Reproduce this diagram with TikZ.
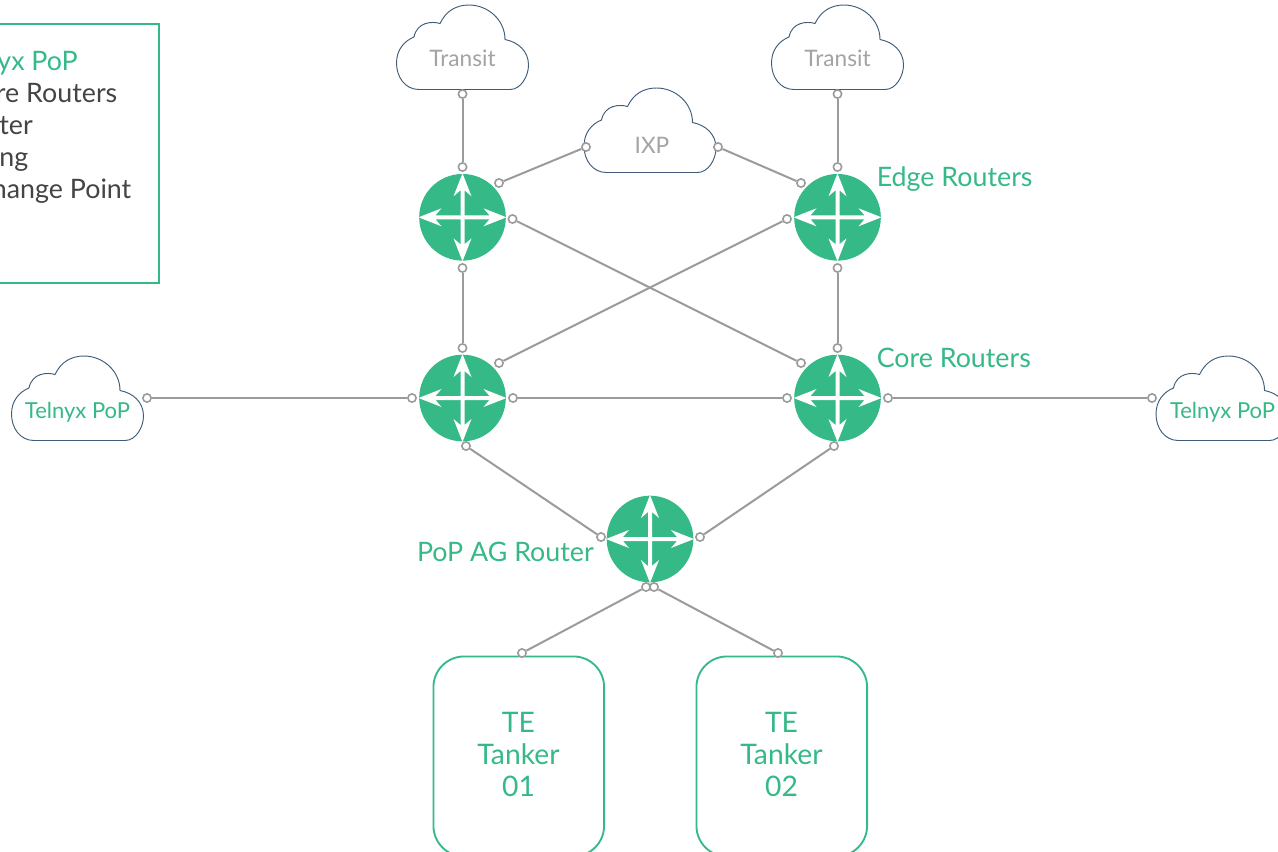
\documentclass[tikz,border=0pt]{standalone}
\usepackage{fontspec}
\setmainfont{Lato}
\definecolor{tgreen}{HTML}{34B987}
\definecolor{tline}{HTML}{9B9B9B}
\definecolor{tcloud}{HTML}{3F5B78}
\definecolor{tdark}{HTML}{444444}
\definecolor{tgray}{HTML}{A3A3A3}
\newcommand{\routerarrows}{%
  \fill[white] (-2,0) -- (-2,-27) -- (-9,-21) -- (0,-44) -- (9,-21) -- (2,-27) -- (2,0) -- cycle;
  \fill[white] (-2,0) -- (-2,27) -- (-9,21) -- (0,44) -- (9,21) -- (2,27) -- (2,0) -- cycle;
  \fill[white] (0,-2) -- (-27,-2) -- (-21,-9) -- (-44,0) -- (-21,9) -- (-27,2) -- (0,2) -- cycle;
  \fill[white] (0,-2) -- (27,-2) -- (21,-9) -- (44,0) -- (21,9) -- (27,2) -- (0,2) -- cycle;
}
\tikzset{
  x=0.75pt,y=-0.75pt,
  cloudshape/.pic={
    \draw[tcloud,line width=0.7pt,fill=white] (419,89.5) -- (510,89.5)
      .. controls (521,89.5) and (528.5,76) .. (528.5,65)
      .. controls (528.5,51) and (518,42) .. (505,39.5)
      .. controls (505,20) and (488,5) .. (469,5)
      .. controls (456,5) and (446,11) .. (440,23.5)
      .. controls (432,21) and (417,22) .. (414,37)
      .. controls (404,41) and (396.5,50) .. (396.5,63)
      .. controls (396.5,77) and (405,89.5) .. (419,89.5) -- cycle;
  },
  router/.style={circle,fill=tgreen,inner sep=0pt,minimum size=65pt,
    path picture={
      \begin{scope}[shift={(path picture bounding box.center)}]
        \routerarrows
      \end{scope}
    }},
  port/.style={circle,draw=tline,fill=white,line width=1.2pt,inner sep=0pt,minimum size=6.2pt},
  link/.style={draw=tline,line width=1.5pt},
  greenlabel/.style={text=tgreen,font=\fontsize{20.1}{24}\selectfont,inner sep=0pt},
  cloudgray/.style={text=tgray,font=\fontsize{17}{20}\selectfont,inner sep=0pt},
  cloudgreen/.style={text=tgreen,font=\fontsize{16.5}{20}\selectfont,inner sep=0pt},
  legendline/.style={text=tdark,font=\fontsize{20.1}{24}\selectfont,inner sep=0pt,anchor=mid east},
  tanker/.style={draw=tgreen,line width=1.4pt,rounded corners=23pt,inner sep=0pt,
    minimum width=128pt,minimum height=150pt,anchor=north west},
  tankertext/.style={text=tgreen,font=\fontsize{21.2}{24}\selectfont,align=center,inner sep=0pt},
}
\begin{document}
\begin{tikzpicture}
\useasboundingbox (0,0) rectangle (1278,851);
\clip (0,0) rectangle (1278,851);

% legend
\node[draw=tgreen,line width=1.4pt,inner sep=0pt,minimum width=135pt,minimum height=194pt,anchor=north east] (legend) at (160,23) {};
\node[legendline,text=tgreen] (l1) at (78,67) {Telnyx PoP};
\node[legendline] (l2) at (117.5,99) {Core Routers};
\node[legendline] (l3) at (33,131) {Router};
\node[legendline] (l4) at (28.5,163) {Peering};
\node[legendline] (l5) at (131.5,195) {Internet Exchange Point};

% clouds
\pic at (0,0) {cloudshape};
\pic at (375,0) {cloudshape};
\pic at (187.5,83) {cloudshape};
\pic at (-385,351) {cloudshape};
\pic at (759.5,351) {cloudshape};
\node[cloudgray] (t1) at (462.5,58) {Transit};
\node[cloudgray] (t2) at (837.5,58) {Transit};
\node[cloudgray] (ixp) at (652,145) {IXP};
\node[cloudgreen] (p1) at (77.5,412.5) {Telnyx PoP};
\node[cloudgreen] (p2) at (1222.5,412.5) {Telnyx PoP};

% routers
\node[router] (r1) at (462.5,217.3) {};
\node[router] (r2) at (837.5,217.3) {};
\node[router] (r3) at (462.5,398) {};
\node[router] (r4) at (837.5,398) {};
\node[router] (r5) at (650,539) {};

% labels
\node[greenlabel,anchor=mid west] (le) at (876.5,183.5) {Edge Routers};
\node[greenlabel,anchor=mid west] (lc) at (876.5,364.5) {Core Routers};
\node[greenlabel,anchor=mid east] (la) at (594,558.5) {PoP AG Router};

% tankers
\node[tanker] (b1) at (432.5,655.5) {};
\node[tanker] (b2) at (695.5,655.5) {};
\node[tankertext] (tt1) at (518.5,754) {TE\\[0pt]Tanker\\[0pt]01};
\node[tankertext] (tt2) at (781.5,754) {TE\\[0pt]Tanker\\[0pt]02};

% ports
\foreach \n/\x/\y in {
  a1/462.5/94, a2/462.5/167,
  b3/586/147, b4/499/183,
  c1/718/147, c2/801/183,
  d1/837.5/94, d2/837.5/167,
  e1/512.5/219, e2/801/363,
  f1/787/219, f2/499/363,
  g1/462.5/268, g2/462.5/348,
  h1/837.5/268, h2/837.5/348,
  i1/147/398, i2/412/398,
  j1/513/398, j2/787/398,
  k1/888/398, k2/1152/398,
  m1/466/446, m2/601/537,
  n1/834/446, n2/700/537,
  o1/646/587, o2/522/653,
  q1/654/587, q2/778/653}{
  \node[port] (\n) at (\x,\y) {};
}
\foreach \u/\v in {a1/a2,b3/b4,c1/c2,d1/d2,e1/e2,f1/f2,g1/g2,h1/h2,i1/i2,j1/j2,k1/k2,m1/m2,n1/n2,o1/o2,q1/q2}{
  \draw[link] (\u) -- (\v);
}
\end{tikzpicture}
\end{document}
